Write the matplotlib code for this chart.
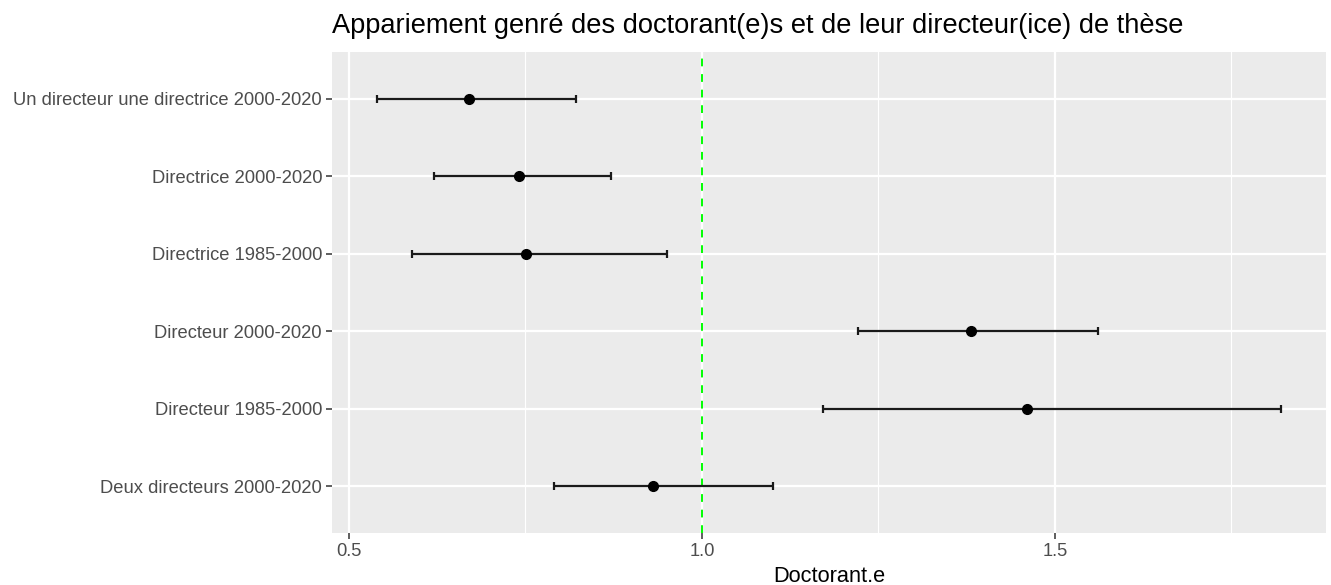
import matplotlib
matplotlib.use("Agg")
import matplotlib.pyplot as plt
from matplotlib.ticker import FixedLocator

plt.rcParams['font.family'] = ['Liberation Sans', 'DejaVu Sans']

categories = [
    "Deux directeurs 2000-2020",
    "Directeur 1985-2000",
    "Directeur 2000-2020",
    "Directrice 1985-2000",
    "Directrice 2000-2020",
    "Un directeur une directrice 2000-2020",
]
estimate = [0.930, 1.460, 1.381, 0.751, 0.741, 0.670]
lower = [0.790, 1.171, 1.221, 0.590, 0.621, 0.540]
upper = [1.101, 1.820, 1.561, 0.951, 0.871, 0.821]
x_ticks = [0.5, 1.0, 1.5]
x_tick_labels = ["0.5", "1.0", "1.5"]
x_minor = [0.75, 1.25, 1.75]
ref_value = 1.0

W, H = 1331, 585
fig = plt.figure(figsize=(W / 100, H / 100), dpi=100)
ax = fig.add_axes([332 / W, 1 - 533 / H, (1326 - 332) / W, (533 - 52) / H])
ax.set_facecolor("#EBEBEB")
for s in ax.spines.values():
    s.set_visible(False)

ypos = list(range(1, len(categories) + 1))
lo_err = [e - l for e, l in zip(estimate, lower)]
hi_err = [u - e for e, u in zip(estimate, upper)]

lo = min(lower)
hi = max(upper)
pad = 0.05 * (hi - lo)
ax.set_xlim(lo - pad, hi + pad)
ax.set_ylim(0.4, len(categories) + 0.6)

ax.xaxis.set_major_locator(FixedLocator(x_ticks))
ax.xaxis.set_minor_locator(FixedLocator(x_minor))
ax.set_xticks(x_ticks)
ax.set_xticklabels(x_tick_labels)
ax.set_yticks(ypos)
ax.set_yticklabels(categories)

ax.grid(which="major", color="white", linewidth=1.6, zorder=0)
ax.grid(which="minor", axis="x", color="white", linewidth=0.8, zorder=0)
ax.set_axisbelow(True)

ax.tick_params(axis="both", which="major", length=4, width=1.1, color="#333333",
               labelcolor="#4D4D4D", labelsize=13.2, pad=3.2)
ax.tick_params(axis="both", which="minor", length=0)

ax.axvline(ref_value, color="#00FF00", linewidth=1.4, linestyle=(0, (4, 4)), zorder=2)

ax.errorbar(estimate, ypos, xerr=[lo_err, hi_err], fmt="o", color="black",
            ecolor="#1a1a1a", elinewidth=1.6, capsize=3, capthick=1.6,
            markersize=7, zorder=3)

ax.set_xlabel("Doctorant.e", fontsize=15.7, color="black", labelpad=4)
ax.set_title("Appariement genré des doctorant(e)s et de leur directeur(ice) de thèse",
             loc="left", fontsize=19.65, color="black", pad=13.7)

fig.savefig("out.png", dpi=100)
